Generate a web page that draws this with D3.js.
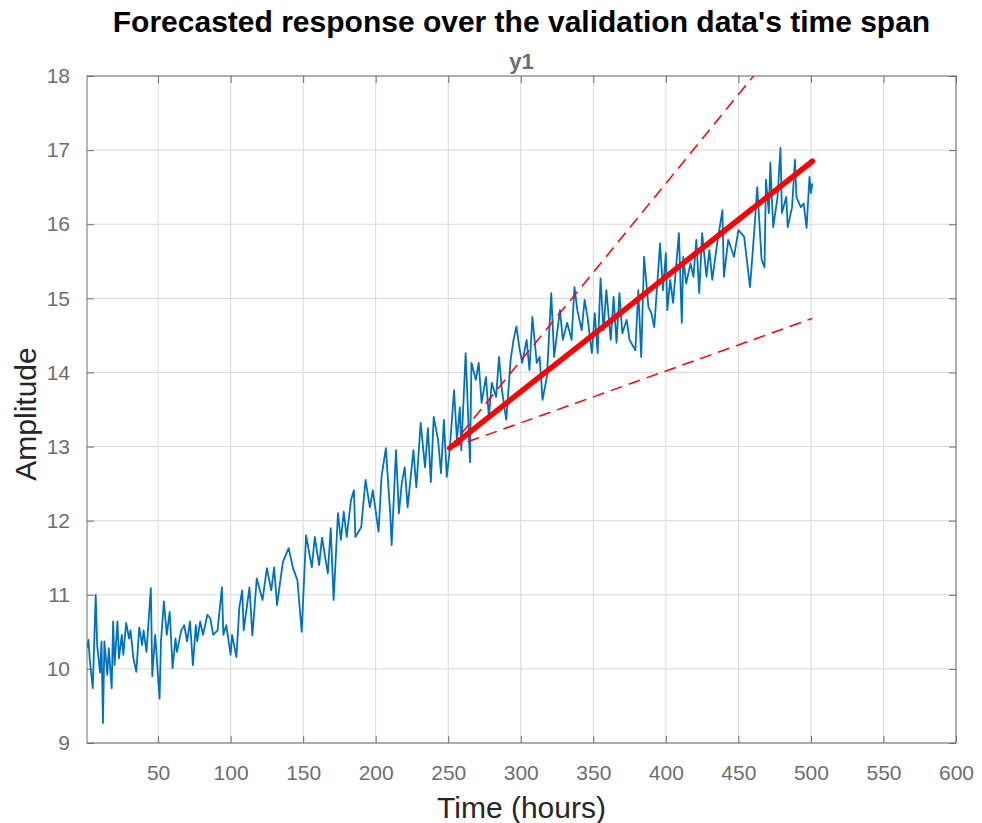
<!DOCTYPE html>
<html>
<head>
<meta charset="utf-8">
<script src="https://cdn.jsdelivr.net/npm/d3@7"></script>
<style>
  body { margin: 0; background: #fff; }
  text { font-family: "Liberation Sans", Arial, sans-serif; }
</style>
</head>
<body>
<div id="chart"></div>
<script>
// measured series (time in hours, amplitude)
var obsTime = [1, 2, 3, 5, 7, 8, 10, 11, 12, 13, 15, 16, 18, 19, 20, 22, 23, 25, 26, 28, 30, 31, 33, 35, 37, 39, 40, 42, 45, 46, 48, 51, 52, 54, 56, 58, 60, 62, 63, 66, 68, 70, 72, 74, 76, 77, 79, 81, 84, 86, 88, 91, 94, 95, 97, 100, 101, 104, 106, 108, 109, 113, 115, 118, 122, 125, 128, 130, 132, 136, 140, 143, 146, 149, 152, 156, 158, 161, 163, 167, 169, 171, 174, 176, 178, 180, 183, 185, 186, 190, 193, 196, 198, 202, 204, 207, 210, 211, 214, 216, 218, 220, 222, 226, 228, 231, 234, 236, 238, 240, 243, 245, 247, 249, 251, 254, 256, 258, 259, 262, 265, 266, 269, 271, 273, 276, 278, 280, 283, 285, 287, 290, 293, 295, 297, 299, 301, 304, 306, 308, 311, 313, 315, 318, 321, 323, 327, 329, 332, 335, 337, 339, 342, 344, 346, 349, 351, 353, 355, 357, 359, 362, 364, 366, 368, 370, 373, 375, 379, 381, 383, 385, 388, 390, 392, 396, 398, 400, 401, 403, 405, 409, 411, 412, 414, 417, 419, 421, 423, 425, 428, 430, 432, 435, 439, 440, 443, 447, 450, 454, 458, 461, 463, 466, 468, 469, 471, 472, 474, 477, 479, 480, 483, 484, 487, 489, 490, 493, 495, 497, 499, 500, 501]
var obsValue = [10.28, 10.39, 10.1, 9.74, 11.0, 10.32, 9.95, 10.37, 9.27, 10.37, 9.92, 10.28, 9.74, 10.64, 10.05, 10.64, 10.14, 10.46, 10.19, 10.62, 10.41, 10.52, 10.14, 9.96, 10.56, 10.32, 10.52, 10.23, 11.09, 9.9, 10.46, 9.6, 10.37, 10.91, 10.46, 10.77, 10.01, 10.41, 10.23, 10.52, 10.59, 10.37, 10.64, 10.05, 10.59, 10.37, 10.64, 10.46, 10.73, 10.68, 10.46, 10.52, 11.1, 10.46, 10.59, 10.19, 10.46, 10.16, 10.83, 11.06, 10.52, 11.1, 10.45, 11.22, 10.93, 11.36, 11.06, 11.37, 10.86, 11.44, 11.63, 11.36, 11.2, 10.5, 11.8, 11.37, 11.78, 11.4, 11.77, 11.29, 11.9, 10.93, 12.1, 11.74, 12.12, 11.78, 12.28, 12.41, 11.78, 11.91, 12.55, 12.18, 12.41, 11.85, 12.59, 12.98, 12.1, 11.67, 12.95, 12.1, 12.51, 12.72, 12.18, 12.95, 12.45, 13.32, 12.72, 13.25, 12.52, 13.4, 13.09, 12.64, 13.36, 12.59, 12.95, 13.76, 13.09, 13.53, 12.95, 14.26, 12.79, 14.13, 13.9, 14.13, 13.59, 13.94, 13.4, 13.86, 13.67, 14.21, 13.76, 13.36, 14.17, 14.44, 14.62, 14.34, 14.13, 14.44, 14.03, 14.75, 14.13, 14.21, 13.63, 13.94, 15.07, 14.21, 14.84, 14.44, 14.67, 14.44, 15.15, 14.84, 14.57, 14.98, 14.75, 14.26, 14.8, 14.26, 15.27, 14.57, 15.11, 14.44, 15.02, 14.4, 15.07, 14.53, 14.71, 14.44, 14.3, 15.11, 14.21, 15.56, 14.88, 14.8, 14.61, 15.74, 15.11, 15.61, 14.84, 15.25, 14.94, 15.88, 14.67, 15.56, 15.2, 15.47, 15.29, 15.79, 15.07, 15.88, 15.29, 15.65, 15.25, 15.69, 16.19, 15.29, 15.79, 15.56, 15.92, 15.83, 15.15, 15.92, 16.5, 15.52, 15.42, 16.6, 16.15, 16.83, 15.96, 16.37, 17.03, 16.15, 16.37, 15.96, 16.23, 16.87, 16.37, 16.23, 16.28, 15.95, 16.64, 16.42, 16.55]

// forecast and its confidence bounds
var fcTime  = [251, 300, 350, 400, 450, 501]
var fcMean  = [12.98, 13.74, 14.51, 15.29, 16.06, 16.85]
var fcUpper = [12.98, 14.16, 15.35, 16.55, 17.75, 18.97]
var fcLower = [12.98, 13.32, 13.67, 14.02, 14.37, 14.73]

var xTicks = [50, 100, 150, 200, 250, 300, 350, 400, 450, 500, 550, 600]
var yTicks = [9, 10, 11, 12, 13, 14, 15, 16, 17, 18]

var W = 982, H = 823
var margin = { top: 76, right: 26, bottom: 80, left: 87 },
  width = W - margin.left - margin.right,
  height = H - margin.top - margin.bottom

var svg = d3.select("#chart").append("svg")
  .attr("width", W)
  .attr("height", H)

var g = svg.append("g")
  .attr("transform", "translate(" + margin.left + "," + margin.top + ")")

var x = d3.scaleLinear().domain([1, 600]).range([0, width])
var y = d3.scaleLinear().domain([9, 18]).range([height, 0])

// grid
g.append("g").selectAll("line")
  .data(xTicks).enter().append("line")
  .attr("x1", d => x(d)).attr("x2", d => x(d))
  .attr("y1", 0).attr("y2", height)
  .attr("stroke", "#d9d9d9").attr("stroke-width", 1)
g.append("g").selectAll("line")
  .data(yTicks).enter().append("line")
  .attr("x1", 0).attr("x2", width)
  .attr("y1", d => y(d)).attr("y2", d => y(d))
  .attr("stroke", "#d9d9d9").attr("stroke-width", 1)

g.append("clipPath").attr("id", "clip")
  .append("rect").attr("width", width).attr("height", height)

var plot = g.append("g").attr("clip-path", "url(#clip)")

var obs = obsTime.map((t, i) => [t, obsValue[i]])
var line = d3.line().x(d => x(d[0])).y(d => y(d[1]))

plot.append("path")
  .datum(obs)
  .attr("fill", "none")
  .attr("stroke", "#0072BD")
  .attr("stroke-width", 1.8)
  .attr("stroke-linejoin", "round")
  .attr("d", line)

plot.selectAll(".bound")
  .data([fcUpper, fcLower])
  .enter().append("path")
  .attr("class", "bound")
  .attr("fill", "none")
  .attr("stroke", "#ff0000")
  .attr("stroke-width", 1.5)
  .attr("stroke-dasharray", "12,7")
  .attr("d", b => line(fcTime.map((t, i) => [t, b[i]])))

plot.append("path")
  .datum(fcTime.map((t, i) => [t, fcMean[i]]))
  .attr("fill", "none")
  .attr("stroke", "#ff0000")
  .attr("stroke-width", 5.5)
  .attr("stroke-linecap", "round")
  .attr("d", line)

// axes, ticks pointing inward on all four sides
var axisColor = "#6e6e6e"
function styleAxis(sel) {
  sel.select(".domain").remove()
  sel.selectAll("line").attr("stroke", axisColor)
  sel.selectAll("text").attr("fill", axisColor).style("font-size", "21px")
}

g.append("g")
  .attr("transform", "translate(0," + height + ")")
  .call(d3.axisBottom(x).tickValues(xTicks).tickSize(-7).tickPadding(22))
  .call(styleAxis)
g.append("g")
  .call(d3.axisTop(x).tickValues(xTicks).tickSize(-7).tickFormat(""))
  .call(styleAxis)
g.append("g")
  .call(d3.axisLeft(y).tickValues(yTicks).tickSize(-7).tickPadding(17))
  .call(styleAxis)
g.append("g")
  .attr("transform", "translate(" + width + ",0)")
  .call(d3.axisRight(y).tickValues(yTicks).tickSize(-7).tickFormat(""))
  .call(styleAxis)

g.append("rect")
  .attr("width", width).attr("height", height)
  .attr("fill", "none")
  .attr("stroke", axisColor)
  .attr("stroke-width", 1)

// titles
svg.append("text")
  .attr("x", margin.left + width / 2)
  .attr("y", 32)
  .attr("text-anchor", "middle")
  .style("font-size", "30px")
  .style("font-weight", "bold")
  .attr("fill", "#000")
  .text("Forecasted response over the validation data's time span")

svg.append("text")
  .attr("x", margin.left + width / 2)
  .attr("y", 69)
  .attr("text-anchor", "middle")
  .style("font-size", "22px")
  .style("font-weight", "bold")
  .attr("fill", axisColor)
  .text("y1")

svg.append("text")
  .attr("x", margin.left + width / 2)
  .attr("y", 818)
  .attr("text-anchor", "middle")
  .style("font-size", "30px")
  .attr("fill", "#262626")
  .text("Time (hours)")

svg.append("text")
  .attr("transform", "translate(36,414) rotate(-90)")
  .attr("text-anchor", "middle")
  .style("font-size", "30px")
  .attr("fill", "#262626")
  .text("Amplitude")
</script>
</body>
</html>
